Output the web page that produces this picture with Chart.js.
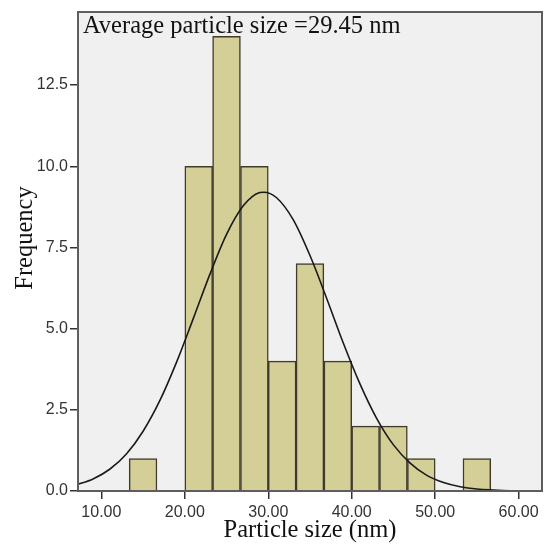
<!DOCTYPE html>
<html>
<head>
<meta charset="utf-8">
<script src="https://cdn.jsdelivr.net/npm/chart.js@4/dist/chart.umd.min.js"></script>
<style>
  html, body { margin: 0; padding: 0; background: #ffffff; }
  #wrap { width: 550px; height: 545px; position: relative; }
</style>
</head>
<body>
<div id="wrap"><canvas id="c" width="550" height="545"></canvas></div>
<script>
// Histogram bins (nm): left edges, and counts
const binStarts = [13.33, 16.67, 20.00, 23.33, 26.67, 30.00, 33.33, 36.67, 40.00, 43.33, 46.67, 50.00, 53.33];
const binWidth = 3.333;
const counts    = [1, 0, 10, 14, 10, 4, 7, 4, 2, 2, 1, 0, 1];

// Normal curve
const curveX = [7, 9, 11, 13, 15, 17, 19, 21, 23, 25, 27, 29, 29.45, 31, 33, 35, 37, 39, 41, 43, 45, 47, 49, 51, 53, 55, 57, 59, 61, 63];
const curveY = [0.19, 0.37, 0.67, 1.14, 1.84, 2.78, 3.96, 5.30, 6.67, 7.90, 8.78, 9.19, 9.20, 9.03, 8.35, 7.25, 5.93, 4.55, 3.29, 2.23, 1.42, 0.86, 0.48, 0.26, 0.13, 0.06, 0.03, 0.01, 0.004, 0.001];

const xTicks = [10, 20, 30, 40, 50, 60];
const yTicks = [0, 2.5, 5.0, 7.5, 10.0, 12.5];
const annotationText = 'Average particle size =29.45 nm';
const xTitle = 'Particle size (nm)';
const yTitle = 'Frequency';

const plotDeco = {
  id: 'plotDeco',
  beforeDraw(chart) {
    const {ctx, chartArea: a} = chart;
    ctx.save();
    ctx.fillStyle = '#f0f0f0';
    ctx.fillRect(a.left, a.top, a.right - a.left, a.bottom - a.top);
    ctx.restore();
  },
  afterDraw(chart) {
    const {ctx, chartArea: a} = chart;
    ctx.save();
    ctx.strokeStyle = '#5e5e5e';
    ctx.lineWidth = 2;
    ctx.strokeRect(a.left, a.top, a.right - a.left, a.bottom - a.top);
    ctx.fillStyle = '#111';
    ctx.font = '24.5px "Liberation Serif", serif';
    ctx.textBaseline = 'alphabetic';
    ctx.textAlign = 'left';
    ctx.fillText(annotationText, a.left + 5, a.top + 21);
    // y-axis title
    ctx.translate(32, 238);
    ctx.rotate(-Math.PI / 2);
    ctx.textAlign = 'center';
    ctx.font = '24.5px "Liberation Serif", serif';
    ctx.fillText(yTitle, 0, 0);
    ctx.restore();
  }
};

const barData = binStarts.map((s, i) => ({x: s + binWidth / 2, y: counts[i]}));
const lineData = curveX.map((x, i) => ({x: x, y: curveY[i]}));

new Chart(document.getElementById('c'), {
  type: 'bar',
  data: {
    datasets: [
      {
        type: 'line',
        data: lineData,
        borderColor: '#1a1a1a',
        borderWidth: 1.6,
        pointRadius: 0,
        cubicInterpolationMode: 'monotone',
        fill: false,
        order: 0
      },
      {
        type: 'bar',
        data: barData,
        backgroundColor: '#d4cf97',
        borderColor: '#3f3b2c',
        borderWidth: 1.5,
        barPercentage: 1.0,
        categoryPercentage: 1.0,
        grouped: false,
        order: 1
      }
    ]
  },
  options: {
    responsive: false,
    animation: false,
    layout: { padding: { top: 12, right: 8, left: 0, bottom: 0 } },
    plugins: { legend: { display: false }, tooltip: { enabled: false } },
    scales: {
      x: {
        type: 'linear',
        offset: false,
        min: 7.2,
        max: 62.8,
        afterBuildTicks(scale) { scale.ticks = xTicks.map(v => ({value: v})); },
        afterFit(scale) { scale.height = 54; },
        ticks: {
          callback: v => Number(v).toFixed(2),
          color: '#333',
          font: { family: '"Liberation Sans", Arial, sans-serif', size: 16 },
          padding: 4,
          maxRotation: 0,
          autoSkip: false
        },
        grid: { display: true, offset: false, drawOnChartArea: false, drawTicks: true, tickLength: 8, color: '#333', lineWidth: 1.5 },
        border: { display: true, color: '#333', width: 2 },
        title: {
          display: true, text: xTitle, color: '#111',
          font: { family: '"Liberation Serif", serif', size: 24.5 },
          padding: { top: 0, bottom: 0 }
        }
      },
      y: {
        min: 0,
        max: 14.75,
        afterBuildTicks(scale) { scale.ticks = yTicks.map(v => ({value: v})); },
        afterFit(scale) { scale.width = 78; },
        ticks: {
          callback: v => Number(v).toFixed(1),
          color: '#333',
          font: { family: '"Liberation Sans", Arial, sans-serif', size: 16 },
          padding: 2,
          autoSkip: false
        },
        grid: { display: true, offset: false, drawOnChartArea: false, drawTicks: true, tickLength: 8, color: '#333', lineWidth: 1.5 },
        border: { display: true, color: '#333', width: 2 },
        title: { display: false }
      }
    }
  },
  plugins: [plotDeco]
});
</script>
</body>
</html>
